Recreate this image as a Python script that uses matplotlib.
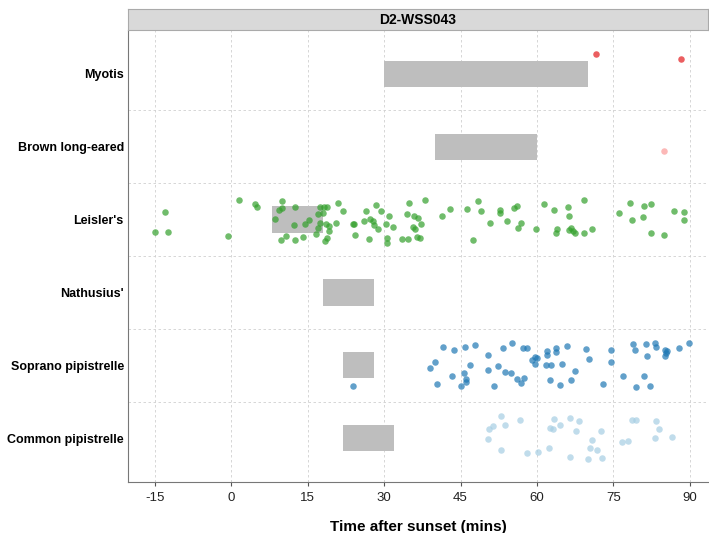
import numpy as np
import matplotlib
matplotlib.use('Agg')
import matplotlib.pyplot as plt

plt.rcParams['font.family'] = ['Liberation Sans', 'DejaVu Sans']

# species (top to bottom)
species = ['Myotis', 'Brown long-eared', "Leisler's", "Nathusius'",
           'Soprano pipistrelle', 'Common pipistrelle']
colors = ['#E31A1C', '#FB9A99', '#33A02C', '#B2DF8A', '#1F78B4', '#A6CEE3']

# expected emergence windows (mins after sunset)
bar_start = [30, 40, 8, 18, 22, 22]
bar_end = [70, 60, 18, 28, 28, 32]

# observed passes: time, jitter (pixels from row centre, down = +)
myotis_t = [71.6, 88.2]
myotis_j = [-20, -15]
brown_t = [84.9]
brown_j = [4]
leisler_t = [-15.0, -13.0, -12.5, -0.6, 1.5, 4.6, 5.1, 8.6, 9.3, 10.0, 9.9, 9.7,
             10.8, 12.3, 12.4, 12.5, 14.0, 14.4, 15.2, 16.7, 17.0, 17.4, 17.0,
             17.5, 18.0, 18.2, 18.8, 18.6, 19.2, 19.2, 18.8, 18.3, 20.6, 20.9,
             21.9, 23.8, 24.0, 24.2, 26.0, 26.4, 27.1, 27.3, 27.9, 28.1, 28.5,
             28.8, 29.4, 30.3, 30.5, 30.6, 31.0, 31.7, 33.6, 34.7, 34.5, 34.8,
             35.8, 36.6, 35.7, 36.1, 37.3, 36.5, 37.1, 38.1, 41.4, 42.9, 46.3,
             48.5, 49.1, 47.5, 50.8, 52.7, 52.7, 54.2, 55.5, 56.1, 56.3, 56.8,
             59.9, 61.4, 63.3, 66.2, 66.3, 64.0, 63.7, 66.3, 66.7, 67.1, 67.4,
             69.2, 69.3, 70.9, 76.2, 78.2, 78.6, 81.1, 82.4, 80.9, 82.4, 85.0,
             86.9, 88.9, 88.9]
leisler_j = [12, -8, 12, 16, -20, -16, -13, -1, -10, -19, -12, 20,
             16, 5, -13, 20, 17, 4, 0, 14, 8, 3, -6,
             -13, -7, -13, -13, 4, 6, 11, 18, 21, 3, -17,
             -9, 4, 4, 15, 1, -9, 19, -1, 1, 5, -15,
             9, -9, 4, 23, 18, -4, 7, 19, 19, -6, -17,
             -4, -2, 7, 9, 4, 17, 18, -20, -4, -11, -11,
             -19, -9, 20, 3, -10, -7, 1, -12, -14, 8, 3,
             9, -16, -10, -13, -4, 9, 13, 10, 8, 11, 13,
             -20, 13, 9, -7, -17, 0, -14, -16, -3, 13, 15,
             -9, -8, 0]
nathusius_t = []
nathusius_j = []
soprano_t = [23.9, 39.0, 40.0, 40.4, 41.5, 43.4, 43.8, 45.0, 45.7, 45.8, 46.0,
             46.1, 46.8, 47.8, 50.4, 50.4, 51.5, 52.3, 53.3, 53.7, 54.9, 55.2,
             56.1, 56.9, 57.5, 57.3, 58.0, 59.1, 59.6, 60.1, 59.7, 61.7, 62.7,
             61.9, 61.9, 62.5, 63.8, 63.8, 65.0, 64.6, 66.0, 66.6, 67.4, 69.7,
             70.2, 73.0, 74.6, 74.6, 76.9, 78.8, 79.2, 79.5, 81.0, 81.4, 81.7,
             82.3, 83.2, 83.3, 85.2, 85.4, 85.2, 85.6, 88.0, 89.9]
soprano_j = [21, 3, -3, 19, -18, 11, -15, 21, 8, -18, 14,
             17, 0, -20, -10, 5, 21, 1, -17, 7, 8, -22,
             14, 18, 13, -17, -17, -5, -8, -7, -1, 0, 0,
             -14, -10, 15, -17, -13, -1, 20, -19, 15, 6, -16,
             -6, 19, -15, -3, 11, -21, -15, 22, 11, -21, -9,
             21, -22, -18, -15, -12, -9, -14, -17, -22]
common_t = [50.3, 50.5, 51.4, 52.9, 53.7, 52.9, 56.6, 58.0, 60.2, 62.3, 62.5,
            63.1, 63.4, 64.6, 66.5, 66.5, 67.6, 68.2, 70.1, 70.8, 70.4, 71.9,
            72.7, 72.6, 76.7, 77.9, 78.7, 79.5, 83.3, 83.9, 83.1, 86.5]
common_j = [1, -9, -12, -22, -13, 12, -18, 15, 14, 10, -10,
            -9, -19, -13, -20, 19, -7, -17, 21, 2, 10, 12,
            20, -7, 4, 3, -18, -18, -17, -9, 0, -1]

times = [myotis_t, brown_t, leisler_t, nathusius_t, soprano_t, common_t]
jitters = [myotis_j, brown_j, leisler_j, nathusius_j, soprano_j, common_j]

ROW_PX = 72.9

fig = plt.figure(figsize=(7.09, 5.33), dpi=100)
ax = fig.add_axes([128 / 709, 1 - 482 / 533, 580 / 709, 452 / 533])

# grid
for x in [-15, 0, 15, 30, 45, 60, 75, 90]:
    ax.axvline(x, color='#D0D0D0', lw=0.6, ls=(0, (3, 3)), zorder=0)
for y in np.arange(0.5, 5, 1):
    ax.axhline(y, color='#D0D0D0', lw=0.6, ls=(0, (3, 3)), zorder=0)

# emergence windows
for i in range(len(species)):
    ax.barh(i, bar_end[i] - bar_start[i], left=bar_start[i], height=0.36,
            color='#BEBEBE', zorder=1)

# passes
for i, (t, j) in enumerate(zip(times, jitters)):
    if len(t) == 0:
        continue
    y = i + np.array(j) / ROW_PX
    ax.scatter(t, y, s=22, color=colors[i], alpha=0.7, linewidths=0, zorder=2)

ax.set_xlim(-20.3, 93.6)
ax.set_ylim(5.6, -0.6)
ax.set_xticks([-15, 0, 15, 30, 45, 60, 75, 90])
ax.set_xticklabels(['-15', '0', '15', '30', '45', '60', '75', '90'])
ax.set_yticks(range(len(species)))
ax.set_yticklabels(species, fontweight='bold', fontsize=9)
ax.tick_params(axis='x', length=3, color='#555555', labelsize=9.5, pad=4)
ax.tick_params(axis='y', length=0, pad=3)
for lbl in ax.get_xticklabels():
    lbl.set_color('#222222')

for s in ['top', 'right']:
    ax.spines[s].set_visible(False)
for s in ['left', 'bottom']:
    ax.spines[s].set_color('#777777')
    ax.spines[s].set_linewidth(0.8)

ax.set_xlabel('Time after sunset (mins)', fontweight='bold', fontsize=11, labelpad=12)

# facet strip
sax = fig.add_axes([128 / 709, 1 - 30 / 533, 580 / 709, 21 / 533])
sax.set_facecolor('#D9D9D9')
sax.set_xticks([])
sax.set_yticks([])
for s in sax.spines.values():
    s.set_color('#AAAAAA')
    s.set_linewidth(0.8)
sax.text(0.5, 0.5, 'D2-WSS043', ha='center', va='center', fontweight='bold',
         fontsize=10, transform=sax.transAxes)

fig.savefig('out.png', dpi=100)
